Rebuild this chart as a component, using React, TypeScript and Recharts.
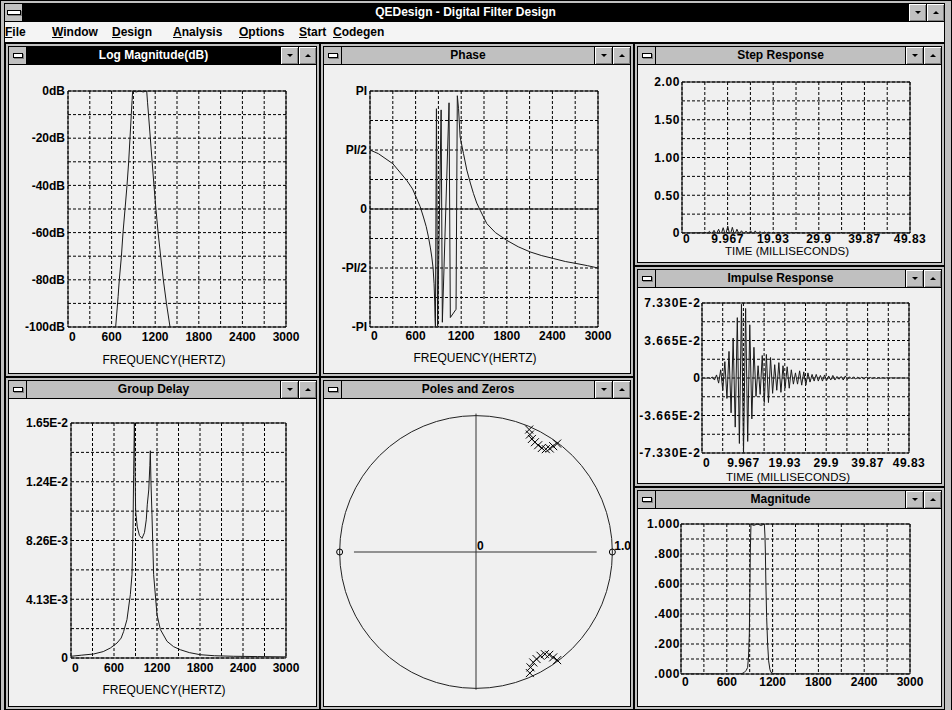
import React from "react";
import {
  CartesianGrid,
  Line,
  LineChart,
  ReferenceArea,
  ReferenceDot,
  ReferenceLine,
  Scatter,
  ScatterChart,
  XAxis,
  YAxis,
} from "recharts";

const FONT = '"Liberation Sans", Arial, Helvetica, sans-serif';
const GRID_DASH = "3 2";
const TRACE = "#1a1a1a";
const FACE = "#c0c0c0";
const PAPER = "#f0f0f0";

// shared axes
const FREQ_TICKS = [0, 300, 600, 900, 1200, 1500, 1800, 2100, 2400, 2700, 3000];
const FREQ_LABELS = ["0", "", "600", "", "1200", "", "1800", "", "2400", "", "3000"];
const TIME_TICKS = [0, 4.983, 9.967, 14.95, 19.93, 24.92, 29.9, 34.88, 39.87, 44.85, 49.83];
const TIME_LABELS = ["0", "", "9.967", "", "19.93", "", "29.9", "", "39.87", "", "49.83"];

// log magnitude (dB)
const LOGMAG_TICKS = [-100, -90, -80, -70, -60, -50, -40, -30, -20, -10, 0];
const LOGMAG_LABELS = ["-100dB", "", "-80dB", "", "-60dB", "", "-40dB", "", "-20dB", "", "0dB"];
const LOGMAG_FREQ = [656, 690, 706, 735, 757, 785, 812, 835, 853, 871, 882, 890, 940, 985, 1035, 1083, 1095, 1108, 1133, 1158, 1183, 1210, 1240, 1275, 1312, 1355, 1404];
const LOGMAG_DB = [-100, -87, -80, -70, -60, -50, -40, -30, -20, -10, -4, 0, -0.4, 0, -0.4, 0, -5, -10, -20, -30, -40, -50, -60, -70, -80, -90, -100];

// phase, in units of PI
const PHASE_TICKS = [-1, -0.75, -0.5, -0.25, 0, 0.25, 0.5, 0.75, 1];
const PHASE_LABELS = ["-PI", "", "-PI/2", "", "0", "", "PI/2", "", "PI"];
const PHASE_FREQ = [0, 110, 300, 483, 560, 615, 660, 703, 740, 769, 795, 813, 830, 843, 851, 856, 861, 874, 890, 936, 952, 1040, 1057, 1132, 1149, 1165, 1186, 1230, 1274, 1320, 1362, 1405, 1450, 1537, 1650, 1801, 1950, 2108, 2260, 2416, 2570, 2723, 2860, 3000];
const PHASE_PI = [0.5, 0.469, 0.384, 0.243, 0.17, 0.088, 0.02, -0.068, -0.15, -0.237, -0.33, -0.407, -0.5, -0.633, -0.78, -0.93, -1.0, 0.85, -0.99, 0.84, -0.96, 0.9, -0.92, -0.85, 0.96, 0.85, 0.61, 0.47, 0.33, 0.22, 0.13, 0.05, -0.011, -0.124, -0.2, -0.266, -0.32, -0.364, -0.395, -0.42, -0.445, -0.463, -0.48, -0.5];

// group delay (seconds)
const GD_TICKS = [0, 0.0020625, 0.004125, 0.0061875, 0.00825, 0.0103125, 0.012375, 0.0144375, 0.0165];
const GD_LABELS = ["0", "", "4.13E-3", "", "8.26E-3", "", "1.24E-2", "", "1.65E-2"];
const GD_FREQ = [0, 150, 316, 450, 549, 642, 700, 735, 781, 828, 851, 865, 874, 884, 902, 925, 955, 991, 1025, 1050, 1065, 1085, 1100, 1107, 1115, 1130, 1153, 1200, 1247, 1340, 1430, 1526, 1650, 1805, 2000, 2270, 2600, 3000];
const GD_SEC = [0.00012, 0.0002, 0.00028, 0.00045, 0.0007, 0.00105, 0.0014, 0.00187, 0.0027, 0.00445, 0.00585, 0.009, 0.0129, 0.0165, 0.0103, 0.0092, 0.0086, 0.0084, 0.0088, 0.0097, 0.0108, 0.0118, 0.0135, 0.01455, 0.0125, 0.01006, 0.00585, 0.00304, 0.002, 0.00117, 0.0008, 0.00058, 0.00038, 0.00023, 0.00016, 0.00012, 0.0001, 0.00008];

// linear magnitude
const MAG_TICKS = [0, 0.1, 0.2, 0.3, 0.4, 0.5, 0.6, 0.7, 0.8, 0.9, 1];
const MAG_LABELS = [".000", "", ".200", "", ".400", "", ".600", "", ".800", "", "1.000"];
const MAG_FREQ = [0, 700, 764, 800, 830, 855, 873, 885, 895, 902, 908, 917, 950, 1000, 1050, 1092, 1100, 1105, 1112, 1122, 1135, 1148, 1165, 1179, 1210, 1245, 1300, 3000];
const MAG_VALUE = [0, 0, 0.001, 0.003, 0.011, 0.025, 0.044, 0.12, 0.265, 0.55, 0.82, 1.0, 0.99, 1.0, 0.99, 1.0, 0.92, 0.82, 0.6, 0.376, 0.2, 0.088, 0.03, 0.011, 0.003, 0.001, 0, 0];

// step and impulse responses, one sample every 0.5 ms
const SAMPLE_MS = 0.5;
const STEP_TICKS = [0, 0.25, 0.5, 0.75, 1, 1.25, 1.5, 1.75, 2];
const STEP_LABELS = ["0", "", "0.50", "", "1.00", "", "1.50", "", "2.00"];
const STEP_VALUE = [
  0, 0, 0, 0, 0, 0, 0.003, -0.002, 0.006, -0.004,
  0.012, -0.008, 0.022, -0.014, 0.035, -0.02, 0.05, -0.028, 0.07, -0.035,
  0.09, -0.04, 0.075, -0.032, 0.05, -0.02, 0.03, -0.012, 0.025, -0.015,
  0.03, -0.02, 0.028, -0.016, 0.02, -0.01, 0.014, -0.008, 0.012, -0.008,
  0.01, -0.006, 0.008, -0.005, 0.006, -0.004, 0.007, -0.005, 0.008, -0.005,
  0.006, 0.004, -0.003, 0.004, -0.003, 0.003, -0.002, 0.003, -0.002, 0.003,
  -0.002, 0.002, -0.002, 0.002, -0.001, 0.002, -0.001, 0.001, -0.001, 0.001,
  -0.001, 0.001, 0, 0.001, 0, 0.001, 0, 0, 0, 0,
  0, 0, 0, 0, 0, 0, 0, 0, 0, 0,
  0, 0, 0, 0, 0, 0, 0, 0, 0, 0,
];

// impulse response in units of 1E-2
const IMPULSE_TICKS = [-7.33, -5.4975, -3.665, -1.8325, 0, 1.8325, 3.665, 5.4975, 7.33];
const IMPULSE_LABELS = ["-7.330E-2", "", "-3.665E-2", "", "0", "", "3.665E-2", "", "7.330E-2"];
const IMPULSE_E2 = [
  0, 0, -0.02, 0.03, -0.05, 0.1, -0.2, 0.3, -0.5, 0.8,
  -1.2, 1.6, -2.0, 2.6, -3.4, 3.9, -4.8, 5.9, -6.4, 7.2,
  -7.3, 6.8, -6.2, 5.2, -4.0, 3.0, -1.8, 1.2, -1.6, 2.2,
  -2.4, 2.3, -2.4, 2.0, -1.5, 1.3, -1.2, 1.5, -1.4, 1.2,
  -1.0, 1.1, -1.0, 0.8, -0.6, 0.5, -0.6, 0.7, -0.7, 0.6,
  -0.7, 0.5, -0.4, 0.35, -0.3, 0.35, -0.3, 0.25, -0.3, 0.3,
  -0.25, 0.2, -0.2, 0.25, -0.2, 0.15, -0.12, 0.15, -0.2, 0.2,
  -0.15, 0.12, -0.1, 0.12, -0.1, 0.08, -0.08, 0.1, -0.12, 0.1,
  -0.06, 0.05, -0.05, 0.04, -0.05, 0.04, -0.03, 0.03, -0.02, 0.02,
  -0.02, 0.02, -0.01, 0.01, -0.01, 0.01, 0, 0, 0, 0,
];

// poles and zeros (z-plane)
const ZERO_RE = [-1, 1];
const ZERO_IM = [0, 0];
const POLE_RE = [0.39, 0.395, 0.41, 0.432, 0.456, 0.483, 0.512, 0.541, 0.566, 0.595, 0.395, 0.4, 0.42, 0.444, 0.473, 0.505, 0.537, 0.566, 0.595];
const POLE_IM = [0.898, 0.861, 0.829, 0.805, 0.783, 0.763, 0.754, 0.759, 0.776, 0.795, -0.888, -0.846, -0.81, -0.785, -0.761, -0.749, -0.754, -0.773, -0.793];

const MENU = ["File", "Window", "Design", "Analysis", "Options", "Start", "Codegen"];
const MENU_X = [5, 52, 112, 173, 239, 299, 333];

const pairs = (xs: number[], ys: number[], xk: string, yk: string) =>
  xs.map((x, i) => ({ [xk]: x, [yk]: ys[i] }));
const sampled = (ys: number[]) => ys.map((v, i) => ({ t: i * SAMPLE_MS, v }));

type Box = { left: number; top: number; right: number; bottom: number };

type PlotProps = {
  width: number;
  height: number;
  box: Box;
  data: Record<string, number>[];
  xKey: string;
  yKey: string;
  xDomain: [number, number];
  yDomain: [number, number];
  xTicks: number[];
  xLabels: string[];
  yTicks: number[];
  yLabels: string[];
  xGap: number;
  yGap: number;
  xSpacing?: number;
  ySpacing?: number;
  xTitle?: string;
  titleX?: number;
  titleY?: number;
  titleSize?: number;
  zeroLine?: boolean;
};

function FilterPlot(p: PlotProps) {
  const tick = { fontSize: 12, fontWeight: 700, fill: "#000", fontFamily: FONT };
  const yTick = { ...tick, letterSpacing: p.ySpacing ?? 0 };
  // the "0" at the origin sits just right of the axis, the rest are centred
  const xTick = (t: any) => {
    const text = p.xLabels[t.index];
    if (!text) return <g />;
    const first = t.index === 0;
    return (
      <text
        x={first ? t.x + 1 : t.x}
        y={t.y}
        dy="0.71em"
        textAnchor={first ? "start" : "middle"}
        {...tick}
        letterSpacing={p.xSpacing ?? 0}
      >
        {text}
      </text>
    );
  };
  const title = p.xTitle
    ? () => (
        <text
          x={p.titleX}
          y={p.titleY}
          textAnchor="middle"
          fontSize={p.titleSize ?? 12}
          fontFamily={FONT}
          fill="#000"
        >
          {p.xTitle}
        </text>
      )
    : undefined;
  return (
    <LineChart
      width={p.width}
      height={p.height}
      data={p.data}
      margin={{ top: p.box.top, right: p.box.right, bottom: 0, left: 0 }}
    >
      <CartesianGrid stroke="#000" strokeDasharray={GRID_DASH} />
      <XAxis
        type="number"
        dataKey={p.xKey}
        domain={p.xDomain}
        ticks={p.xTicks}
        interval={0}
        allowDataOverflow
        height={p.box.bottom}
        axisLine={false}
        tickLine={false}
        tickSize={0}
        tickMargin={p.xGap}
        tick={xTick}
        label={title}
      />
      <YAxis
        type="number"
        domain={p.yDomain}
        ticks={p.yTicks}
        interval={0}
        allowDataOverflow
        width={p.box.left}
        axisLine={false}
        tickLine={false}
        tickSize={0}
        tickMargin={p.yGap}
        tickFormatter={(_v: number, i: number) => p.yLabels[i]}
        tick={yTick}
      />
      {p.zeroLine && <ReferenceLine y={0} stroke="#000" />}
      <ReferenceArea
        x1={p.xDomain[0]}
        x2={p.xDomain[1]}
        y1={p.yDomain[0]}
        y2={p.yDomain[1]}
        fill="none"
        stroke="#000"
      />
      <Line
        type="linear"
        dataKey={p.yKey}
        stroke={TRACE}
        strokeWidth={1}
        dot={false}
        activeDot={false}
        isAnimationActive={false}
      />
    </LineChart>
  );
}

function Triangle({ up }: { up: boolean }) {
  const edge = "3px solid #000";
  return (
    <div
      style={{
        width: 0,
        height: 0,
        borderLeft: "3px solid transparent",
        borderRight: "3px solid transparent",
        ...(up ? { borderBottom: edge } : { borderTop: edge }),
      }}
    />
  );
}

function WinButton({ up }: { up: boolean }) {
  return (
    <div
      style={{
        width: 18,
        height: "100%",
        boxSizing: "border-box",
        borderLeft: "1px solid #000",
        background: FACE,
        boxShadow: "inset 1px 1px 0 #fff, inset -1px -1px 0 #808080",
        display: "flex",
        alignItems: "center",
        justifyContent: "center",
      }}
    >
      <Triangle up={up} />
    </div>
  );
}

function SysBox({ bar }: { bar: number }) {
  return (
    <div
      style={{
        width: 18,
        height: "100%",
        boxSizing: "border-box",
        borderRight: "1px solid #000",
        background: FACE,
        display: "flex",
        alignItems: "center",
        justifyContent: "center",
      }}
    >
      <div style={{ width: bar, height: 3, background: "#fff", border: "1px solid #000", boxShadow: "1px 1px 0 #808080" }} />
    </div>
  );
}

function Panel({
  left,
  top,
  width,
  height,
  title,
  active,
  children,
}: {
  left: number;
  top: number;
  width: number;
  height: number;
  title: string;
  active?: boolean;
  children: React.ReactNode;
}) {
  return (
    <div
      style={{
        position: "absolute",
        left,
        top,
        width,
        height,
        boxSizing: "border-box",
        border: "1px solid #000",
        background: FACE,
        padding: 2,
      }}
    >
      <div
        style={{
          width: "100%",
          height: "100%",
          boxSizing: "border-box",
          border: "1px solid #000",
          display: "flex",
          flexDirection: "column",
          background: PAPER,
        }}
      >
        <div
          style={{
            height: 18,
            flex: "0 0 18px",
            boxSizing: "border-box",
            borderBottom: "1px solid #000",
            display: "flex",
          }}
        >
          <SysBox bar={8} />
          <div
            style={{
              flex: 1,
              background: active ? "#000" : FACE,
              color: active ? "#fff" : "#000",
              fontWeight: 700,
              fontSize: 12,
              lineHeight: "17px",
              textAlign: "center",
              whiteSpace: "nowrap",
            }}
          >
            {title}
          </div>
          <WinButton up={false} />
          <WinButton up={true} />
        </div>
        <div style={{ position: "relative", flex: 1, overflow: "hidden" }}>{children}</div>
      </div>
    </div>
  );
}

function PolesZeros() {
  const plot = 300;
  const unitPx = plot / 2.2;
  const zeros = pairs(ZERO_RE, ZERO_IM, "re", "im");
  const poles = pairs(POLE_RE, POLE_IM, "re", "im");
  const label = (text: string, dx: number) => (props: any) => (
    <text
      x={props.viewBox.x + dx}
      y={props.viewBox.y - 2}
      fontSize={12}
      fontWeight={700}
      fontFamily={FONT}
      fill="#000"
    >
      {text}
    </text>
  );
  return (
    <ScatterChart width={306} height={307} margin={{ top: 3, right: 4, bottom: 4, left: 2 }}>
      <XAxis type="number" dataKey="re" domain={[-1.1, 1.1]} hide allowDataOverflow />
      <YAxis type="number" dataKey="im" domain={[-1.1, 1.1]} hide allowDataOverflow />
      <ReferenceDot x={0} y={0} r={unitPx} fill="none" stroke="#222" strokeWidth={1} />
      <ReferenceLine segment={[{ x: -0.895, y: 0 }, { x: 0.885, y: 0 }]} stroke="#333" />
      <ReferenceLine segment={[{ x: 0, y: 1.015 }, { x: 0, y: -1.01 }]} stroke="#333" />
      <ReferenceDot x={0} y={0} r={0} fill="none" stroke="none" label={label("0", 1)} />
      <ReferenceDot x={1} y={0} r={0} fill="none" stroke="none" label={label("1.0", 2)} />
      <Scatter
        data={zeros}
        isAnimationActive={false}
        shape={(s: any) => <circle cx={s.cx} cy={s.cy} r={3} fill="none" stroke="#000" />}
      />
      <Scatter
        data={poles}
        isAnimationActive={false}
        shape={(s: any) => (
          <path
            d={`M${s.cx - 4},${s.cy - 4}L${s.cx + 4},${s.cy + 4}M${s.cx - 4},${s.cy + 4}L${s.cx + 4},${s.cy - 4}`}
            stroke="#000"
            strokeWidth={1}
            fill="none"
          />
        )}
      />
    </ScatterChart>
  );
}

export default function App() {
  const logMag = pairs(LOGMAG_FREQ, LOGMAG_DB, "f", "v");
  const phase = pairs(PHASE_FREQ, PHASE_PI, "f", "v");
  const delay = pairs(GD_FREQ, GD_SEC, "f", "v");
  const mag = pairs(MAG_FREQ, MAG_VALUE, "f", "v");
  const step = sampled(STEP_VALUE);
  const impulse = sampled(IMPULSE_E2);

  return (
    <div
      style={{
        position: "absolute",
        left: 0,
        top: 0,
        width: 952,
        height: 710,
        overflow: "hidden",
        background: FACE,
        fontFamily: FONT,
      }}
    >
      <div style={{ position: "absolute", left: 0, top: 0, width: 952, height: 720, boxSizing: "border-box", border: "1px solid #000" }} />
      <div style={{ position: "absolute", left: 4, top: 3, width: 941, height: 720, boxSizing: "border-box", border: "1px solid #000" }} />

      {/* main title bar */}
      <div style={{ position: "absolute", left: 5, top: 4, width: 939, height: 18, display: "flex", boxSizing: "border-box", borderBottom: "1px solid #000" }}>
        <SysBox bar={12} />
        <div style={{ flex: 1, background: "#000", color: "#fff", fontWeight: 700, fontSize: 12, lineHeight: "17px", textAlign: "center" }}>
          QEDesign - Digital Filter Design
        </div>
        <WinButton up={false} />
        <WinButton up={true} />
      </div>

      {/* menu bar */}
      <div style={{ position: "absolute", left: 5, top: 22, width: 939, height: 21, background: "#f4f4f4", boxSizing: "border-box", borderBottom: "1px solid #000" }}>
        {MENU.map((m, i) => (
          <span key={m} style={{ position: "absolute", left: MENU_X[i] - 5, top: 3, fontSize: 12, fontWeight: 700, lineHeight: "14px" }}>
            <u>{m[0]}</u>
            {m.slice(1)}
          </span>
        ))}
      </div>

      <Panel left={5} top={43} width={315} height={334} title="Log Magnitude(dB)" active>
        <FilterPlot
          width={307}
          height={308}
          box={{ left: 59, top: 26, right: 30, bottom: 46 }}
          data={logMag}
          xKey="f"
          yKey="v"
          xDomain={[0, 3000]}
          yDomain={[-100, 0]}
          xTicks={FREQ_TICKS}
          xLabels={FREQ_LABELS}
          yTicks={LOGMAG_TICKS}
          yLabels={LOGMAG_LABELS}
          xGap={5}
          yGap={3}
          xTitle="FREQUENCY(HERTZ)"
          titleX={155}
          titleY={299}
        />
      </Panel>

      <Panel left={320} top={43} width={314} height={334} title="Phase">
        <FilterPlot
          width={306}
          height={308}
          box={{ left: 46, top: 26, right: 32, bottom: 46 }}
          data={phase}
          xKey="f"
          yKey="v"
          xDomain={[0, 3000]}
          yDomain={[-1, 1]}
          xTicks={FREQ_TICKS}
          xLabels={FREQ_LABELS}
          yTicks={PHASE_TICKS}
          yLabels={PHASE_LABELS}
          xGap={4}
          yGap={3}
          xTitle="FREQUENCY(HERTZ)"
          titleX={151}
          titleY={297}
          zeroLine
        />
      </Panel>

      <Panel left={634} top={43} width={311} height={223} title="Step Response">
        <FilterPlot
          width={303}
          height={197}
          box={{ left: 44, top: 17, right: 31, bottom: 29 }}
          data={step}
          xKey="t"
          yKey="v"
          xDomain={[0, 49.83]}
          yDomain={[0, 2]}
          xTicks={TIME_TICKS}
          xLabels={TIME_LABELS}
          yTicks={STEP_TICKS}
          yLabels={STEP_LABELS}
          xGap={1}
          yGap={2}
          xSpacing={0.5}
          ySpacing={0.6}
          xTitle="TIME (MILLISECONDS)"
          titleX={149}
          titleY={190}
          titleSize={11.5}
        />
      </Panel>

      <Panel left={634} top={266} width={311} height={221} title="Impulse Response">
        <FilterPlot
          width={303}
          height={195}
          box={{ left: 64, top: 15, right: 32, bottom: 30 }}
          data={impulse}
          xKey="t"
          yKey="v"
          xDomain={[0, 49.83]}
          yDomain={[-7.33, 7.33]}
          xTicks={TIME_TICKS}
          xLabels={TIME_LABELS}
          yTicks={IMPULSE_TICKS}
          yLabels={IMPULSE_LABELS}
          xGap={5}
          yGap={1}
          xSpacing={0.5}
          ySpacing={1}
          xTitle="TIME (MILLISECONDS)"
          titleX={150}
          titleY={193}
          titleSize={11.5}
        />
      </Panel>

      <Panel left={5} top={377} width={315} height={333} title="Group Delay">
        <FilterPlot
          width={307}
          height={307}
          box={{ left: 62, top: 24, right: 30, bottom: 48 }}
          data={delay}
          xKey="f"
          yKey="v"
          xDomain={[0, 3000]}
          yDomain={[0, 0.0165]}
          xTicks={FREQ_TICKS}
          xLabels={FREQ_LABELS}
          yTicks={GD_TICKS}
          yLabels={GD_LABELS}
          xGap={5}
          yGap={3}
          xTitle="FREQUENCY(HERTZ)"
          titleX={155}
          titleY={295}
        />
      </Panel>

      <Panel left={320} top={377} width={314} height={333} title="Poles and Zeros">
        <PolesZeros />
      </Panel>

      <Panel left={634} top={487} width={311} height={223} title="Magnitude">
        <FilterPlot
          width={303}
          height={197}
          box={{ left: 43, top: 15, right: 31, bottom: 32 }}
          data={mag}
          xKey="f"
          yKey="v"
          xDomain={[0, 3000]}
          yDomain={[0, 1]}
          xTicks={FREQ_TICKS}
          xLabels={FREQ_LABELS}
          yTicks={MAG_TICKS}
          yLabels={MAG_LABELS}
          xGap={3}
          yGap={1}
          ySpacing={0.6}
        />
      </Panel>
    </div>
  );
}
